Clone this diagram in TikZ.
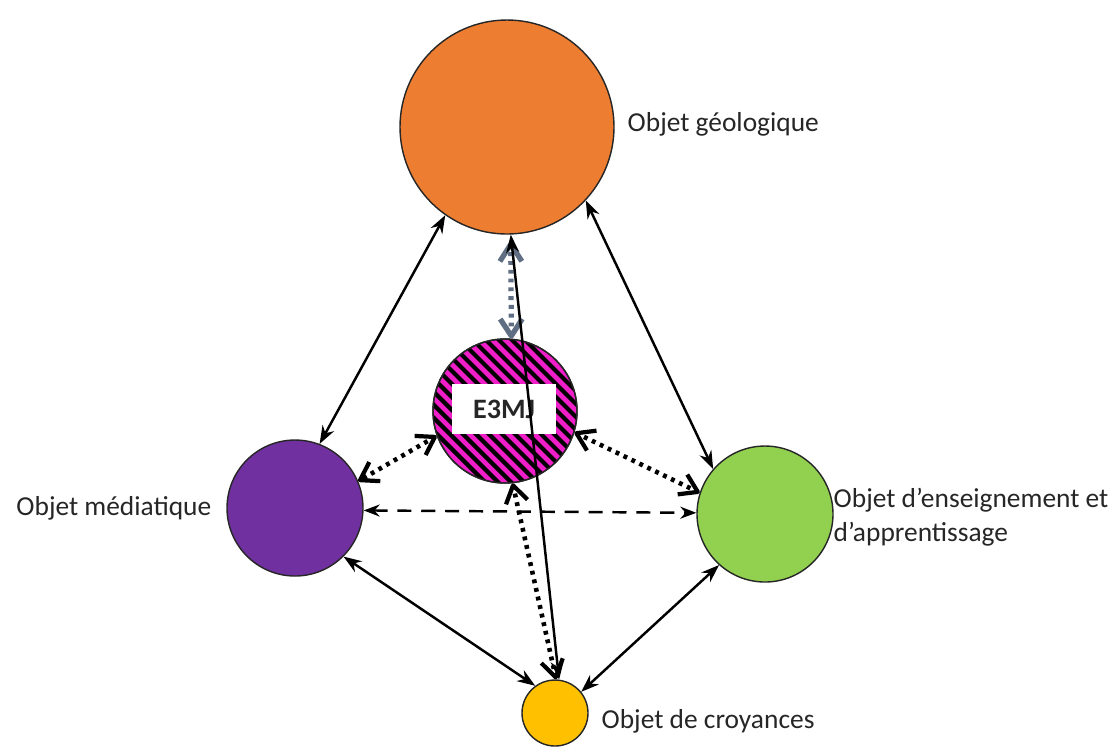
\documentclass[tikz,border=0pt]{standalone}
\usepackage{fontspec}
\setmainfont{Carlito}
\usetikzlibrary{arrows.meta}
\definecolor{orangegeo}{RGB}{237,125,49}
\definecolor{violetmed}{RGB}{112,48,160}
\definecolor{vertens}{RGB}{146,208,80}
\definecolor{jaunecroy}{RGB}{255,192,0}
\definecolor{rosee}{RGB}{240,30,200}
\definecolor{grisbleu}{RGB}{95,110,130}
% lien pointille : trait en points, pointes pleines
\newcommand{\lienpoints}[3][black]{%
\draw[pointille,#1] (#2) -- (#3);
\path[pointes,#1] (#2) -- (#3);}

\begin{document}
\begin{tikzpicture}[x=1cm,y=-1cm,
objet/.style={circle,draw=black!85,line width=0.4pt,inner sep=0pt},
etiq/.style={font=\fontsize{7.8}{9.6}\selectfont,align=left,inner sep=0pt,text=black!85},
plein/.style={line width=0.7pt,{Stealth[length=1.8mm,width=1.3mm]}-{Stealth[length=1.8mm,width=1.3mm]}},
pointille/.style={line width=1.3pt,dash pattern=on 1.1pt off 1.4pt,shorten <=0.5pt,shorten >=0.5pt},
pointes/.style={tips,line width=1.2pt,
  {Straight Barb[length=1.7mm,width=2.2mm,line join=round]}-{Straight Barb[length=1.7mm,width=2.2mm,line join=round]}},
tirets/.style={line width=0.7pt,dash pattern=on 4pt off 2.8pt,{Stealth[length=1.6mm,width=1.2mm]}-{Stealth[length=1.6mm,width=1.2mm]}}
]
\useasboundingbox (0,0) rectangle (11.2,7.49);

% les cinq objets
\node[objet,fill=orangegeo,minimum size=2.14cm] (geo) at (5.07,1.27) {};
\node[objet,fill=violetmed,minimum size=1.36cm] (media) at (2.95,5.08) {};
\node[objet,fill=vertens,minimum size=1.36cm] (ens) at (7.65,5.14) {};
\node[objet,fill=jaunecroy,minimum size=0.66cm] (croy) at (5.55,7.13) {};
\node[objet,fill=rosee,minimum size=1.44cm] (e3mj) at (5.05,4.11) {};

% hachures
\begin{scope}
\clip (5.05,4.11) circle (0.715);
\foreach \k in {-16,...,16}
{
\draw[line width=1.2pt] ({5.05+\k*0.13-1},3.11) -- ++(2,2);
}
\end{scope}
\draw[black!85,line width=0.4pt] (5.05,4.11) circle (0.72);
\node[fill=white,minimum width=1.04cm,minimum height=0.5cm,font=\fontsize{8}{9}\selectfont\bfseries,text=black!85] (boite) at (5.04,4.09) {E3MJ};

% etiquettes
\node[etiq,anchor=west] (lgeo) at (6.27,1.24) {Objet géologique};
\node[etiq,anchor=east] (lmedia) at (2.12,5.08) {Objet médiatique};
\node[etiq,anchor=west] (lens) at (8.33,5.17) {Objet d’enseignement et\\d’apprentissage};
\node[etiq,anchor=west] (lcroy) at (6.01,7.21) {Objet de croyances};

% liens
\draw[plein] (geo.235) -- (media.69);
\draw[plein] (geo.-43) -- (ens.139);
\draw[plein] (media.-45) -- (croy.126);
\draw[plein] (ens.228) -- (croy.39);
\draw[tirets] (media.-2) -- (ens.179);
\lienpoints{e3mj.200}{media.23}
\lienpoints{e3mj.-17}{ens.162}
\lienpoints{e3mj.-84}{croy.88}
\coordinate (haut) at ([yshift=-2pt]geo.272);
\lienpoints[grisbleu,line width=1.5pt]{haut}{e3mj.85}
\draw[plein] (geo.-88) -- (croy.83);
\end{tikzpicture}
\end{document}
